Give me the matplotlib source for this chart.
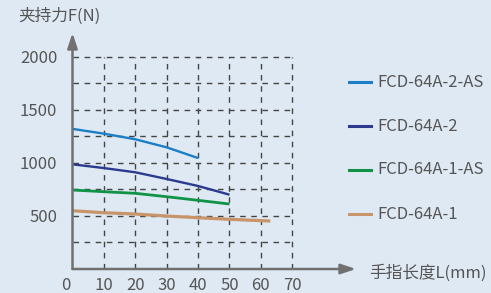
import matplotlib
matplotlib.use("Agg")
import matplotlib.pyplot as plt
from matplotlib.lines import Line2D
from matplotlib.transforms import ScaledTranslation

plt.rcParams['font.family'] = ['Noto Sans CJK SC', 'DejaVu Sans']

# Data
finger_len_a = [0, 10, 20, 30, 40]
force_2_as = [1320, 1275, 1222, 1146, 1045]
finger_len_b = [0, 10, 20, 30, 40, 50]
force_2 = [986, 951, 911, 848, 782, 700]
force_1_as = [744, 728, 713, 681, 647, 612]
finger_len_c = [0, 10, 20, 30, 40, 50, 63]
force_1 = [549, 530, 518, 499, 483, 468, 452]

series_labels = ['FCD-64A-2-AS', 'FCD-64A-2', 'FCD-64A-1-AS', 'FCD-64A-1']
series_colors = ['#1b7ec6', '#2b3a8f', '#109347', '#c8946a']

x_ticks = [0, 10, 20, 30, 40, 50, 60, 70]
y_ticks = [500, 1000, 1500, 2000]
grid_y = [250, 500, 750, 1000, 1250, 1500, 1750, 2000]
grid_x = [10, 20, 30, 40, 50, 60, 70]

W, H = 491, 293
bg = '#dfe9f3'
fig = plt.figure(figsize=(W / 100, H / 100), dpi=100, facecolor=bg)

x0, x1 = 72.5, 292.3
y0, y1 = 269.0, 56.7
ax = fig.add_axes([x0 / W, (H - y0) / H, (x1 - x0) / W, (y0 - y1) / H])
ax.set_facecolor(bg)
ax.set_xlim(0, 70)
ax.set_ylim(0, 2000)

for s in ax.spines.values():
    s.set_visible(False)

# grid
for gy in grid_y:
    ax.plot([0, 70], [gy, gy], color='#444444', lw=1.0, ls=(0, (4, 4)), zorder=1, clip_on=False)
for gx in grid_x:
    ax.plot([gx, gx], [0, 2000], color='#444444', lw=1.0, ls=(0, (4, 4)), zorder=1, clip_on=False)

# curves
l1, = ax.plot(finger_len_a, force_2_as, color=series_colors[0], lw=1.7, zorder=3, solid_capstyle='butt')
l2, = ax.plot(finger_len_b, force_2, color=series_colors[1], lw=1.7, zorder=3, solid_capstyle='butt')
l3, = ax.plot(finger_len_b, force_1_as, color=series_colors[2], lw=2.0, zorder=3, solid_capstyle='butt')
l4, = ax.plot(finger_len_c, force_1, color=series_colors[3], lw=2.3, zorder=3, solid_capstyle='butt')

# axes arrows
axis_col = '#707070'
ax.annotate('', xy=((356 - x0) / (x1 - x0), 0), xytext=(0, 0),
            xycoords='axes fraction', textcoords='axes fraction',
            arrowprops=dict(arrowstyle='-|>,head_length=0.9,head_width=0.3', color=axis_col, lw=1.8, shrinkA=0, shrinkB=0),
            annotation_clip=False, zorder=4)
ax.annotate('', xy=(0, (y0 - 33) / (y0 - y1)), xytext=(0, 0),
            xycoords='axes fraction', textcoords='axes fraction',
            arrowprops=dict(arrowstyle='-|>,head_length=0.9,head_width=0.3', color=axis_col, lw=1.8, shrinkA=0, shrinkB=0),
            annotation_clip=False, zorder=4)

# ticks
txt_col = '#555555'
ax.set_xticks(x_ticks)
ax.set_xticklabels([str(v) for v in x_ticks])
ax.set_yticks(y_ticks)
ax.set_yticklabels([str(v) for v in y_ticks])
ax.tick_params(length=0, labelsize=12, colors=txt_col, pad=6)
ax.tick_params(axis='y', pad=11)
lab0 = ax.get_xticklabels()[0]
lab0.set_transform(lab0.get_transform() + ScaledTranslation(-7 / 100, 0, fig.dpi_scale_trans))

fig.text(18 / W, 1 - 16 / H, '夹持力F(N)', fontsize=12, color=txt_col, ha='left', va='center')
fig.text(369 / W, 1 - 273 / H, '手指长度L(mm)', fontsize=12, color=txt_col, ha='left', va='center')

# legend (manual placement)
leg_rows = [82.3, 126.3, 170.0, 214.3]
for line, label, ry in zip([l1, l2, l3, l4], series_labels, leg_rows):
    yf = 1 - ry / H
    fig.add_artist(Line2D([349 / W, 371 / W], [yf, yf], transform=fig.transFigure,
                          color=line.get_color(), lw=2.2))
    fig.text(377 / W, yf, label, fontsize=12, color=txt_col, ha='left', va='center')

fig.savefig('out.png', dpi=100, facecolor=bg)
